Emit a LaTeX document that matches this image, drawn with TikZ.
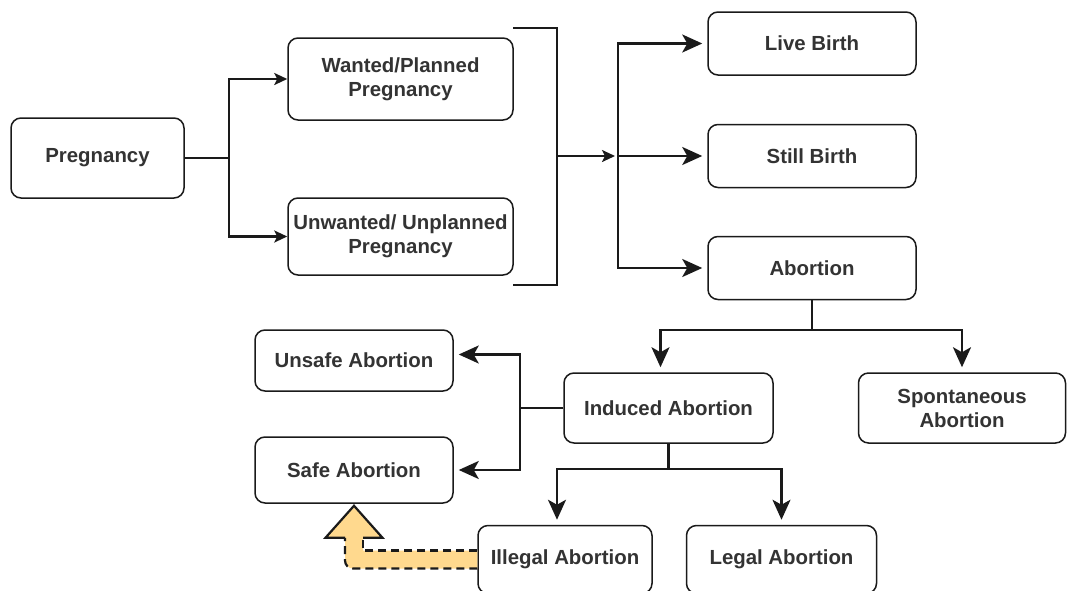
\documentclass[tikz,border=0pt]{standalone}
\usepackage{fontspec}
\setmainfont{Liberation Sans}
\usepackage{tikz}
\usetikzlibrary{arrows.meta, positioning, calc}
\definecolor{textgray}{HTML}{333333}
\definecolor{linegray}{HTML}{1A1A1A}
\definecolor{flexyellow}{HTML}{FFD98E}

\begin{document}
\begin{tikzpicture}[
    x=0.5pt, y=-0.5pt,
    box/.style={draw=linegray, line width=0.75pt, rounded corners=5pt, fill=white, text=textgray, font=\fontsize{10.2}{12}\selectfont\bfseries, align=center, inner xsep=1pt},
    link/.style={draw=linegray, line width=1.2pt},
    arrow/.style={link, -{Stealth[length=10pt, width=9pt, inset=2.5pt]}, shorten >=2.5pt},
    arrowsmall/.style={link, -{Stealth[length=6.5pt, width=6pt, inset=1.5pt]}},
]
    \useasboundingbox (0,0) rectangle (1067,590);

    % Pregnancy and its kinds
    \node[box, minimum width=86.5pt, minimum height=40pt] (preg) at (97.5,158) {Pregnancy};
    \node[box, minimum width=112.5pt, minimum height=41pt] (wanted) at (400.5,79) {Wanted/Planned\\Pregnancy};
    \node[box, minimum width=112.5pt, minimum height=38.5pt] (unwanted) at (400.5,236.5) {Unwanted/ Unplanned\\Pregnancy};

    % Outcomes
    \node[box, minimum width=104pt, minimum height=31.5pt] (live) at (812,43.5) {Live Birth};
    \node[box, minimum width=104pt, minimum height=31.5pt] (still) at (812,156) {Still Birth};
    \node[box, minimum width=104pt, minimum height=31.5pt] (abort) at (812,268) {Abortion};

    % Kinds of abortion
    \node[box, minimum width=104.5pt, minimum height=35pt] (induced) at (668.5,408) {Induced Abortion};
    \node[box, minimum width=103.5pt, minimum height=35pt] (spont) at (962,408) {Spontaneous\\Abortion};
    \node[box, minimum width=99pt, minimum height=30.5pt] (unsafe) at (354,360.5) {Unsafe Abortion};
    \node[box, minimum width=99pt, minimum height=33pt] (safe) at (354,470) {Safe Abortion};
    \node[box, minimum width=87pt, minimum height=34pt] (illegal) at (565,559.5) {Illegal Abortion};
    \node[box, minimum width=95pt, minimum height=34pt] (legal) at (781.5,559.5) {Legal Abortion};

    % Bracket
    \draw[link] (513,28) -| (557,285) -- (513,285);
    \coordinate (brk) at (557,156);
    \coordinate (fork) at (618,156);

    % Arrows
    \draw[arrowsmall] (preg.east) -- ++(44,0) |- (wanted.west);
    \draw[arrowsmall] (preg.east) -- ++(44,0) |- (unwanted.west);
    \draw[arrowsmall] (brk) -- ([xshift=-1.5pt]fork);
    \draw[arrow] (fork) |- (live.west);
    \draw[arrow] (fork) -- (still.west);
    \draw[arrow] (fork) |- (abort.west);
    \draw[arrow] (abort.south) -- ++(0,30) -| ([xshift=-4pt]induced.north);
    \draw[arrow] (abort.south) -- ++(0,30) -| (spont.north);
    \draw[arrow] (induced.west) -- ++(-43,0) |- ([yshift=3pt]unsafe.east);
    \draw[arrow] (induced.west) -- ++(-43,0) |- (safe.east);
    \draw[arrow] (induced.south) -- ++(0,25) -| ([xshift=-4pt]illegal.north);
    \draw[arrow] (induced.south) -- ++(0,25) -| (legal.north);

    % Illegal -> Safe (block arrow)
    \coordinate (ybend) at (safe.south|-illegal.west);
    \coordinate (yhead) at ($(safe.south)+(0,34)$);
    \fill[flexyellow] ($(illegal.west)+(0,-9)$) -- ($(ybend)+(9,-9)$) -- ($(yhead)+(9,0)$) -- ($(yhead)+(28.5,0)$) -- ($(safe.south)+(0,2)$) -- ($(yhead)+(-28.5,0)$) -- ($(yhead)+(-9,0)$) [rounded corners=4pt] -- ($(ybend)+(-9,9)$) [sharp corners] -- ($(illegal.west)+(0,9)$) -- cycle;
    \draw[linegray, line width=1.1pt, dash pattern=on 4pt off 2.5pt] ($(illegal.west)+(0,-9)$) -- ($(ybend)+(9,-9)$) -- ($(yhead)+(9,0)$);
    \draw[linegray, line width=1.1pt, dash pattern=on 4pt off 2.5pt, rounded corners=4pt] ($(illegal.west)+(0,9)$) -- ($(ybend)+(-9,9)$) -- ($(yhead)+(-9,0)$);
    \draw[linegray, line width=1.1pt, line join=miter] ($(yhead)+(-9,0)$) -- ($(yhead)+(-28.5,0)$) -- ($(safe.south)+(0,2)$) -- ($(yhead)+(28.5,0)$) -- ($(yhead)+(9,0)$);

\end{tikzpicture}
\end{document}
